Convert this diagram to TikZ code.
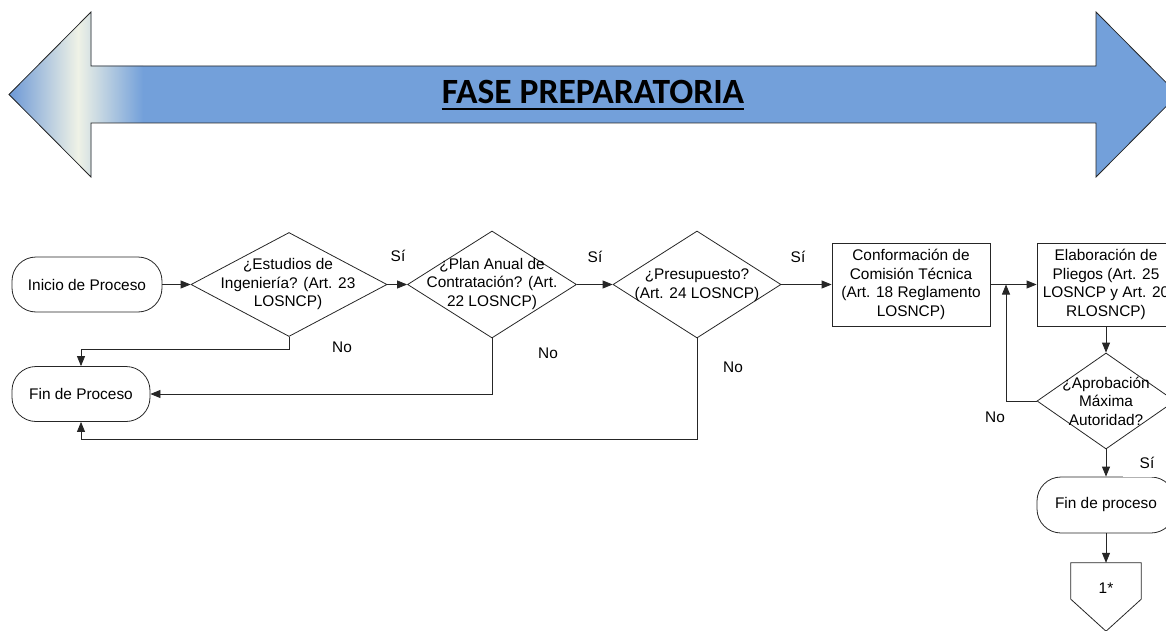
\documentclass[tikz,border=0pt]{standalone}
\usepackage{fontspec}
\setmainfont{Liberation Sans}
\newfontfamily\titlefont{Carlito}
\usetikzlibrary{shapes.geometric,arrows.meta,calc}
\definecolor{arrblue}{RGB}{115,160,218}
\definecolor{tipblue}{RGB}{108,152,214}
\definecolor{cream}{RGB}{239,242,230}
\begin{document}
\begin{tikzpicture}[x=1pt,y=-1pt,
  lbl/.style={font=\fontsize{15.4}{18.5}\selectfont, inner sep=0pt, align=center},
  term/.style={draw=black!85, line width=0.8pt, rounded corners=24pt, minimum height=55pt, inner sep=0pt, font=\fontsize{15.4}{18.5}\selectfont, align=center},
  box/.style={draw=black!85, line width=0.8pt, inner sep=0pt, font=\fontsize{15.4}{18.5}\selectfont, align=center},
  dia/.style={draw=black!85, line width=0.8pt, diamond, inner sep=0pt},
  conn/.style={draw=black!85, line width=0.8pt, -{Triangle[length=10pt,width=8pt]}},
  plainline/.style={draw=black!85, line width=0.8pt}
]
\useasboundingbox (0,0) rectangle (1166,631);
\clip (0,0) rectangle (1166,631);

% big double arrow
\begin{scope}
\clip (9,94.5) -- (91,12) -- (91,66) -- (1096,66) -- (1096,12) -- (1178,94.5) -- (1096,177) -- (1096,123) -- (91,123) -- (91,177) -- cycle;
\fill[arrblue] (0,0) rectangle (1180,200);
\shade[left color=tipblue, right color=cream] (9,0) rectangle (78,200);
\shade[left color=cream, right color=arrblue] (78,0) rectangle (143,200);
\end{scope}
\draw[black!85, line width=0.8pt] (9,94.5) -- (91,12) -- (91,66) -- (1096,66) -- (1096,12) -- (1178,94.5) -- (1096,177) -- (1096,123) -- (91,123) -- (91,177) -- cycle;

\node[font=\titlefont\bfseries\fontsize{35.5}{36}\selectfont, inner sep=0pt, anchor=base] (title) at (593,104) {FASE PREPARATORIA};
\draw[line width=2.2pt] ($(title.base west)+(0,5)$) -- ($(title.base east)+(0,5)$);

% nodes
\node[term, minimum width=150pt] (inicio) at (87,284.5) {Inicio de Proceso};
\node[term, minimum width=138pt] (fin1) at (81,394) {Fin de Proceso};
\node[dia, minimum width=196pt, minimum height=104pt] (d1) at (289,284.5) {};
\node[lbl] (d1t) at (288,284.5) {¿Estudios de\\Ingeniería? (Art. 23\\LOSNCP)};
\node[dia, minimum width=169pt, minimum height=107pt] (d2) at (492,284.5) {};
\node[lbl] (d2t) at (492,284) {¿Plan Anual de\\Contratación? (Art.\\22 LOSNCP)};
\node[dia, minimum width=168pt, minimum height=107pt] (d3) at (697,284.5) {};
\node[lbl] (d3t) at (697,285) {¿Presupuesto?\\(Art. 24 LOSNCP)};
\node[box, minimum width=158pt, minimum height=83pt] (conf) at (911,284.5) {Conformación de\\Comisión Técnica\\(Art. 18 Reglamento\\LOSNCP)};
\node[box, minimum width=138pt, minimum height=83pt] (elab) at (1106,284.5) {Elaboración de\\Pliegos (Art. 25\\LOSNCP y Art. 20\\RLOSNCP)};
\node[dia, minimum width=138pt, minimum height=96pt] (apr) at (1106,401) {};
\node[lbl] (aprt) at (1106,401) {¿Aprobación\\Máxima\\Autoridad?};
\node[term, minimum width=138pt, minimum height=56pt] (fin2) at (1106,505) {Fin de proceso};
\node[inner sep=0pt, minimum width=70pt, minimum height=36pt] (c1) at (1106,581) {};
\draw[plainline] (c1.north west) -- (c1.north east) -- (c1.south east) -- ($(c1.south)+(0,32)$) -- (c1.south west) -- cycle;
\node[lbl] (c1t) at (1106,588) {1*};

% connectors
\draw[conn] (inicio.east) -- (d1.west);
\draw[conn] (d1.east) -- (d2.west);
\draw[conn] (d2.east) -- (d3.west);
\draw[conn] (d3.east) -- (conf.west);
\draw[conn] (conf.east) -- (elab.west);
\draw[conn] (elab.south) -- (apr.north);
\coordinate (j) at (1006,284.5);
\draw[conn] (apr.west) -| (j);
\draw[conn] (apr.south) -- (fin2.north);
\draw[conn] (fin2.south) -- (c1.north);
\draw[conn] (d1.south) -- ++(0,12) -| (fin1.north);
\draw[conn] (d2.south) |- (fin1.east);
\draw[conn] (d3.south) -- ++(0,101) -| (fin1.south);

% labels
\node[lbl] (s1) at (398,256) {Sí};
\node[lbl] (s2) at (595,257) {Sí};
\node[lbl] (s3) at (798,257) {Sí};
\node[lbl] (n1) at (342,347) {No};
\node[lbl] (n2) at (548,353) {No};
\node[lbl] (n3) at (733,367) {No};
\node[lbl] (n4) at (995,417) {No};
\node[lbl, fill=white, minimum width=48pt, minimum height=28pt] (s4) at (1147,463) {Sí};
\end{tikzpicture}
\end{document}
